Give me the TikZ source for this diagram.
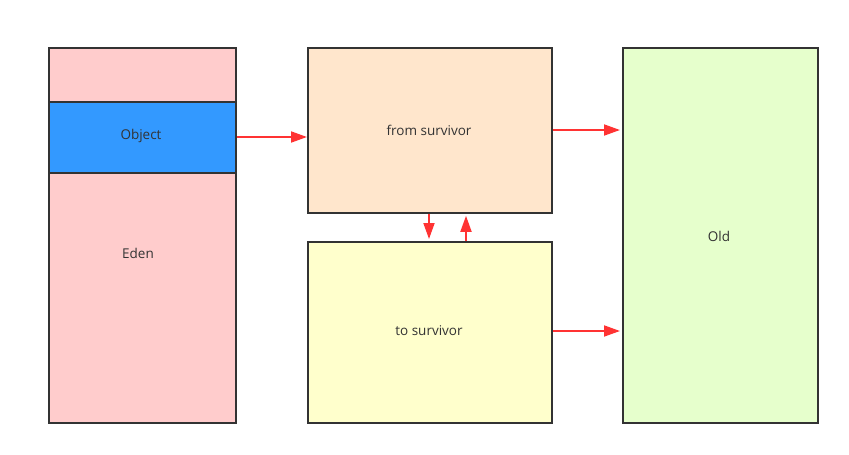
\documentclass[tikz,border=0pt]{standalone}
\usepackage{fontspec}
\setmainfont{Open Sans}
\usetikzlibrary{arrows.meta}
\definecolor{edenpink}{HTML}{FFCCCC}
\definecolor{objblue}{HTML}{3399FF}
\definecolor{frompeach}{HTML}{FFE6CC}
\definecolor{toyellow}{HTML}{FFFFCC}
\definecolor{oldgreen}{HTML}{E6FFCC}
\definecolor{border}{HTML}{333333}
\definecolor{arrowred}{HTML}{FF3333}
\tikzset{
  area/.style={draw=border,line width=1.8pt,inner sep=0pt,anchor=north west},
  txt/.style={text=border,font=\fontsize{13.5}{16}\selectfont},
  move/.style={draw=arrowred,line width=1.8pt,-{Triangle[length=16pt,width=11pt]}}
}

\begin{document}
\begin{tikzpicture}[x=1pt,y=-1pt]
    \useasboundingbox (0,0) rectangle (849,455);
    % heap areas
    \node[area,fill=edenpink,minimum width=187pt,minimum height=375pt] (eden) at (48,47) {};
    \node[area,fill=objblue,minimum width=187pt,minimum height=71pt] (obj) at (48,101) {};
    \node[area,fill=frompeach,minimum width=244pt,minimum height=165pt] (from) at (307,47) {};
    \node[area,fill=toyellow,minimum width=244pt,minimum height=181pt] (to) at (307,241) {};
    \node[area,fill=oldgreen,minimum width=195pt,minimum height=375pt] (old) at (622,47) {};
    % labels
    \node[txt] (objtxt) at (141,136) {Object};
    \node[txt] (edentxt) at (138,253) {Eden};
    \node[txt] (fromtxt) at (429,130) {from survivor};
    \node[txt] (totxt) at (429,331) {to survivor};
    \node[txt] (oldtxt) at (719,236) {Old};
    % moves
    \draw[move] (obj.east |- 0,137) -- (from.west |- 0,137);
    \draw[move] (from.east |- 0,130) -- ([xshift=-2pt]old.west |- 0,130);
    \draw[move] (to.east |- 0,331) -- ([xshift=-2pt]old.west |- 0,331);
    \draw[move] (from.south -| 429,0) -- ([yshift=2pt]to.north -| 429,0);
    \draw[move] (to.north -| 466,0) -- ([yshift=-2pt]from.south -| 466,0);
\end{tikzpicture}
\end{document}
